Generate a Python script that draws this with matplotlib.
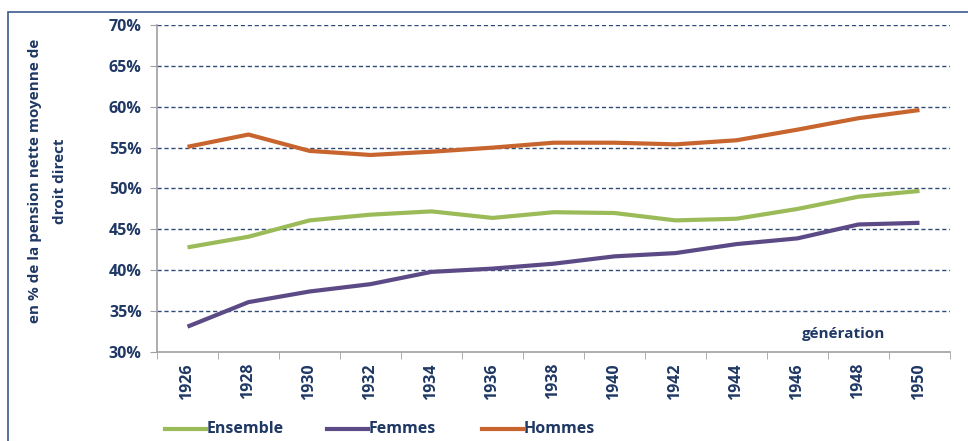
import matplotlib
matplotlib.use("Agg")
import matplotlib.pyplot as plt
from matplotlib.patches import Rectangle
from matplotlib.lines import Line2D

plt.rcParams['font.family'] = ['Open Sans', 'DejaVu Sans']

years = ["1926", "1928", "1930", "1932", "1934", "1936", "1938", "1940", "1942", "1944", "1946", "1948", "1950"]
ensemble = [42.8, 44.1, 46.1, 46.8, 47.2, 46.4, 47.1, 47.0, 46.1, 46.3, 47.5, 49.0, 49.7]
femmes = [33.1, 36.1, 37.4, 38.3, 39.8, 40.2, 40.8, 41.7, 42.1, 43.2, 43.9, 45.6, 45.8]
hommes = [55.1, 56.6, 54.6, 54.1, 54.5, 55.0, 55.6, 55.6, 55.4, 55.9, 57.2, 58.6, 59.6]
yticks = [30, 35, 40, 45, 50, 55, 60, 65, 70]

c_ens = "#9BBB59"
c_fem = "#5B4A86"
c_hom = "#C8652E"
c_txt = "#1F3864"
c_grid = "#2E4A7A"

fig = plt.figure(figsize=(9.68, 4.41), dpi=100)
ax = fig.add_axes([157/968, 1 - 352/441, (950 - 157)/968, (352 - 25)/441])

x = list(range(len(years)))
ax.plot(x, ensemble, color=c_ens, lw=3, solid_capstyle='butt', label="Ensemble", zorder=3)
ax.plot(x, femmes, color=c_fem, lw=3, solid_capstyle='butt', label="Femmes", zorder=3)
ax.plot(x, hommes, color=c_hom, lw=3, solid_capstyle='butt', label="Hommes", zorder=3)

ax.set_xlim(-0.5, len(years) - 0.5)
ax.set_ylim(30, 70)
ax.set_yticks(yticks)
ax.set_yticklabels([f"{v}%" for v in yticks], fontsize=11.5, fontweight='bold', color=c_txt)
ax.set_xticks(x)
ax.set_xticklabels(years, rotation=90, fontsize=11.5, fontweight='bold', color=c_txt)
ax.tick_params(axis='x', length=0, pad=8)
ax.set_xticks([i - 0.5 for i in range(len(years) + 1)], minor=True)
ax.tick_params(axis='x', which='minor', length=5, color="#A0A0A0", direction='out')
ax.tick_params(axis='y', length=5, color="#A0A0A0", pad=6)

for v in yticks[1:]:
    ax.axhline(v, color=c_grid, lw=1.0, ls=(0, (3, 2)), zorder=1)

for s in ['top', 'right']:
    ax.spines[s].set_visible(False)
for s in ['left', 'bottom']:
    ax.spines[s].set_color("#A0A0A0")
    ax.spines[s].set_linewidth(1.2)

ax.text(0.866, 0.055, "génération", transform=ax.transAxes, fontsize=11,
        fontweight='bold', color=c_txt, ha='center', va='center')

fig.text(35/968, 1 - 181/441, "en % de la pension nette moyenne de", rotation=90,
         fontsize=11, fontweight='bold', color=c_txt, ha='center', va='center')
fig.text(60/968, 1 - 181/441, "droit direct", rotation=90,
         fontsize=11, fontweight='bold', color=c_txt, ha='center', va='center')

# legend
ly = 1 - 429/441
for x0, col, lab in [(165, c_ens, "Ensemble"), (327, c_fem, "Femmes"), (482, c_hom, "Hommes")]:
    fig.add_artist(Line2D([x0/968, (x0 + 41)/968], [ly, ly], color=col, lw=3, transform=fig.transFigure))
    fig.text((x0 + 42)/968, ly, lab, fontsize=11.5, fontweight='bold', color=c_txt,
             ha='left', va='center')

# figure border
fig.add_artist(Rectangle((8/968, -0.05), 1.0, 1 - 12/441 + 0.05, transform=fig.transFigure,
                         fill=False, edgecolor="#3C5A8C", lw=1.2))

fig.savefig("out.png", dpi=100)
